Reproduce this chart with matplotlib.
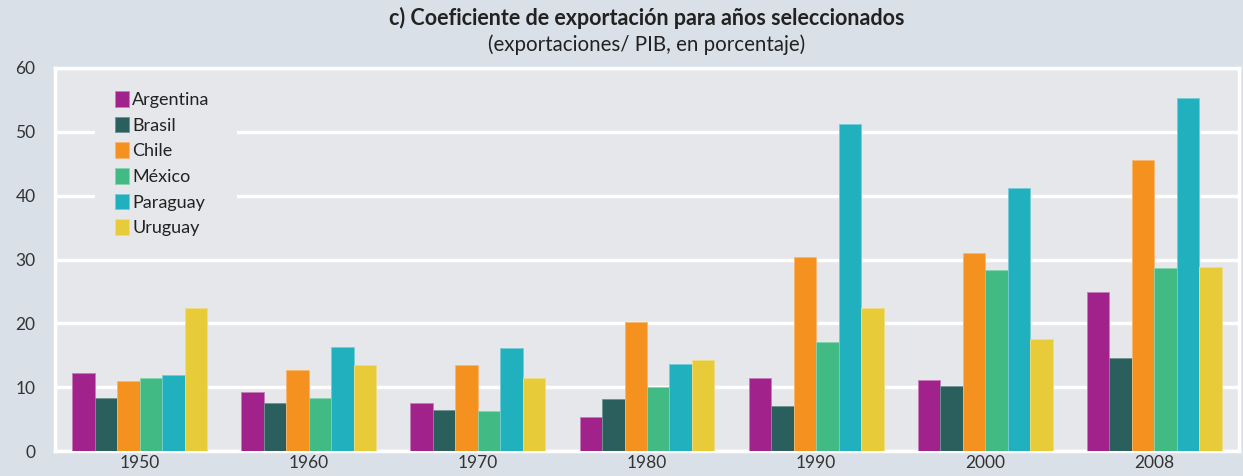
import matplotlib
matplotlib.use("Agg")
import matplotlib.pyplot as plt
from matplotlib.patches import Rectangle
import numpy as np

years = ["1950", "1960", "1970", "1980", "1990", "2000", "2008"]
countries = ["Argentina", "Brasil", "Chile", "México", "Paraguay", "Uruguay"]
argentina = [12.2, 9.2, 7.5, 5.3, 11.4, 11.1, 24.9]
brasil = [8.3, 7.5, 6.4, 8.1, 7.0, 10.2, 14.6]
chile = [11.0, 12.7, 13.5, 20.2, 30.4, 31.0, 45.6]
mexico = [11.4, 8.3, 6.3, 10.0, 17.1, 28.4, 28.7]
paraguay = [11.9, 16.3, 16.1, 13.6, 51.2, 41.2, 55.3]
uruguay = [22.4, 13.5, 11.4, 14.3, 22.4, 17.6, 28.8]
series = [argentina, brasil, chile, mexico, paraguay, uruguay]
colors = ["#A2228C", "#2B5F5E", "#F5911E", "#42BA83", "#21B0BD", "#E8CB38"]
edges = ["#C77DB8", "#6E9392", "#F8B86E", "#86D4B0", "#74CDD6", "#F0DC82"]
yticks = [0, 10, 20, 30, 40, 50, 60]

plt.rcParams['font.family'] = ['Lato', 'DejaVu Sans']
fig_bg = "#D9E0E7"
ax_bg = "#E5E7EA"
W, H = 1243, 476
fig = plt.figure(figsize=(12.43, 4.76), dpi=100, facecolor=fig_bg)
ax = fig.add_axes([55/W, 1 - 451/H, 1184/W, 383/H])
ax.set_facecolor(ax_bg)

x = np.arange(len(years))
w = 0.133
for i, (vals, c, ec, name) in enumerate(zip(series, colors, edges, countries)):
    ax.bar(x + (i - 2.5) * w, vals, width=w, color=c, edgecolor=ec, linewidth=0.6,
           label=name, zorder=3)

ax.set_xlim(-0.5, 6.5)
ax.set_ylim(0, 60)
ax.set_yticks(yticks)
ax.set_xticks(x)
ax.set_xticklabels(years)
ax.tick_params(axis='both', length=0, labelsize=12.5, colors="#333333")
ax.tick_params(axis='y', pad=14)
ax.tick_params(axis='x', pad=3)
ax.grid(axis='y', color='white', linewidth=2.5, zorder=0.5)
ax.set_axisbelow(True)
for s in ax.spines.values():
    s.set_color('white')
    s.set_linewidth(2.5)

# legend background block hiding gridlines
ax.add_patch(Rectangle((40/1184, 1 - 175/383), 142/1184, 165/383, transform=ax.transAxes,
                       facecolor=ax_bg, edgecolor='none', zorder=1))

leg = ax.legend(loc='upper left', bbox_to_anchor=(51/1184, 1 - 14/383), frameon=False,
                fontsize=13, handlelength=0.75, handleheight=0.95,
                handletextpad=0.2, labelspacing=0.48, borderpad=0.0)
for t in leg.get_texts():
    t.set_color("#222222")

fig.text(647/W, 1 - 18/H, "c) Coeficiente de exportación para años seleccionados",
         ha='center', va='center', fontsize=15.5, fontweight='bold', color="#222222")
fig.text(647/W, 1 - 45/H, "(exportaciones/ PIB, en porcentaje)",
         ha='center', va='center', fontsize=14.8, color="#222222")

fig.savefig("out.png", dpi=100, facecolor=fig_bg)
